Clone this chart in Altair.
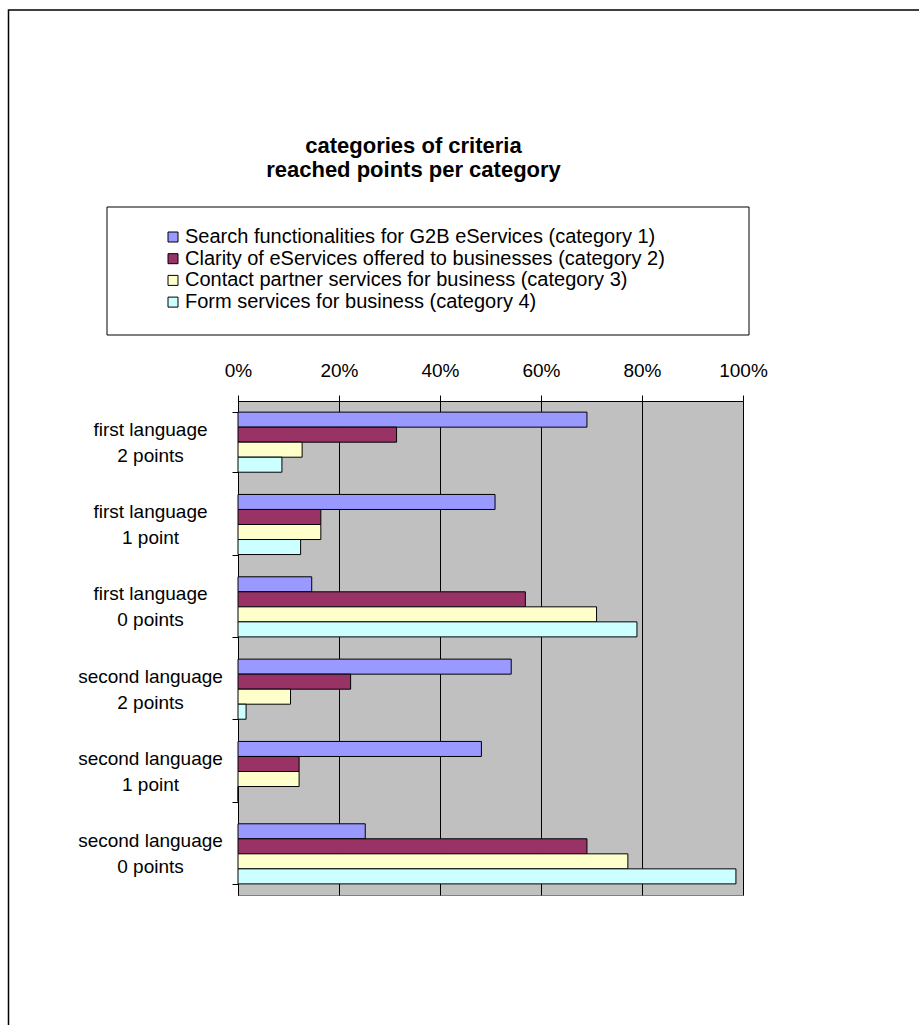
import altair as alt
import pandas as pd

groups = ["first language|2 points", "first language|1 point", "first language|0 points",
          "second language|2 points", "second language|1 point", "second language|0 points"]
series = ["Search functionalities for G2B eServices (category 1)",
          "Clarity of eServices offered to businesses (category 2)",
          "Contact partner services for business (category 3)",
          "Form services for business (category 4)"]
colors = ["#9999FF", "#993366", "#FFFFCC", "#CCFFFF"]
cat1 = [0.691, 0.509, 0.146, 0.541, 0.482, 0.252]
cat2 = [0.314, 0.164, 0.569, 0.223, 0.121, 0.691]
cat3 = [0.127, 0.164, 0.710, 0.104, 0.121, 0.772]
cat4 = [0.087, 0.124, 0.790, 0.016, 0.0, 0.986]
x_ticks = [0, 0.2, 0.4, 0.6, 0.8, 1.0]
title_lines = ["categories of criteria", "reached points per category"]

FONT = "Liberation Sans, Arial, sans-serif"

rows = []
for s, vals in zip(series, [cat1, cat2, cat3, cat4]):
    for g, v in zip(groups, vals):
        rows.append({"group": g, "series": s, "value": v})
df = pd.DataFrame(rows)

bars = alt.Chart(df).mark_bar(stroke="black", strokeWidth=1).encode(
    x=alt.X("value:Q",
            scale=alt.Scale(domain=[0, 1], nice=False, zero=True),
            axis=alt.Axis(orient="top", format=".0%", values=x_ticks, title=None,
                          grid=True, gridColor="black", gridWidth=1, gridOpacity=1,
                          domainColor="black", tickColor="black", tickSize=6,
                          labelPadding=15, labelFontSize=19, labelFont=FONT,
                          labelColor="black", labelFlush=False, labelOverlap=False)),
    y=alt.Y("group:N", sort=groups,
            scale=alt.Scale(paddingInner=0.27, paddingOuter=0.135),
            axis=alt.Axis(title=None, tickBand="extent", domainColor="black",
                          tickColor="black", tickSize=6, labelAlign="center",
                          labelBaseline="middle", labelPadding=82, labelLineHeight=26,
                          labelOffset=-13,
                          labelExpr="split(datum.label, '|')", labelFontSize=19,
                          labelFont=FONT, labelColor="black", labelLimit=0,
                          labelBound=False, grid=False)),
    yOffset=alt.YOffset("series:N", sort=series,
                        scale=alt.Scale(paddingInner=0, paddingOuter=0)),
    color=alt.Color("series:N", sort=series,
                    scale=alt.Scale(domain=series, range=colors),
                    legend=alt.Legend(orient="none", legendX=-75, legendY=-174,
                                      direction="vertical", title=None,
                                      symbolType="square", symbolSize=100,
                                      symbolStrokeColor="black", symbolStrokeWidth=1,
                                      labelFont=FONT, labelFontSize=20,
                                      labelColor="black", rowPadding=1.7,
                                      labelOffset=2, labelLimit=0, padding=0)),
)

one = pd.DataFrame({"k": [0]})
legend_box = alt.Chart(one).mark_rect(fill="transparent", stroke="black", strokeWidth=1).encode(
    x=alt.value(-131), x2=alt.value(511), y=alt.value(-194), y2=alt.value(-66))
frame = alt.Chart(one).mark_rect(fill="transparent", stroke="black", strokeWidth=1.5).encode(
    x=alt.value(-229.5), x2=alt.value(1000), y=alt.value(-391), y2=alt.value(1000))

chart = alt.layer(bars, legend_box, frame).properties(
    width=505, height=494,
    autosize=alt.AutoSizeParams(type="none"),
    padding={"left": 238, "top": 401, "right": 176, "bottom": 130},
    title=alt.TitleParams(title_lines, font=FONT, fontSize=22, fontWeight="bold",
                          color="black", anchor="middle", frame="group", dx=-77,
                          lineHeight=24, offset=-173),
).configure(background="white").configure_view(fill="#C0C0C0", stroke="#808080", strokeWidth=1)

chart.save("out.html", embed_options={"renderer": "svg", "actions": False})
